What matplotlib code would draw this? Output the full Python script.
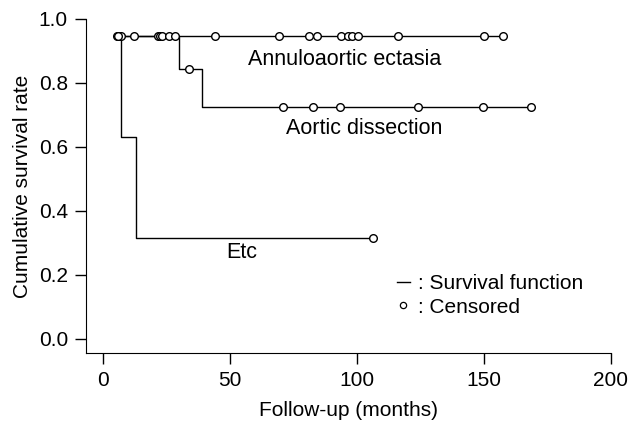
import matplotlib.pyplot as plt
from matplotlib.lines import Line2D

plt.rcParams['font.family'] = ['Liberation Sans', 'DejaVu Sans']

# Kaplan-Meier steps: (time of step, survival after step)
annulo_t = [5.5, 157.4]
annulo_s = [0.947, 0.947]
annulo_cens = [5.5, 6.3, 7.1, 12.3, 21.8, 22.4, 23.1, 26.1, 44.1, 69.3, 81.2,
               84.4, 93.6, 96.6, 97.9, 100.5, 116.3, 150.0, 157.4]

dissect_t = [5.5, 29.9, 38.8, 168.5]
dissect_s = [0.947, 0.844, 0.726, 0.726]
dissect_cens_t = [28.5, 33.9, 70.7, 82.8, 93.3, 124.1, 149.5, 168.5]
dissect_cens_s = [0.947, 0.844, 0.726, 0.726, 0.726, 0.726, 0.726, 0.726]

etc_t = [5.5, 7.0, 13.0, 106.4]
etc_s = [0.947, 0.632, 0.317, 0.317]
etc_cens_t = [5.8, 106.4]
etc_cens_s = [0.947, 0.317]

fig = plt.figure(figsize=(6.33, 4.26), dpi=100)
ax = fig.add_axes([86 / 633, 1 - 353 / 426, 525 / 633, 334 / 426])

line_kw = dict(color='black', lw=1.0, where='post')
mark_kw = dict(ls='none', marker='o', ms=5.5, mfc='white', mec='black', mew=1.0)

ax.step(annulo_t, annulo_s, **line_kw)
ax.step(dissect_t, dissect_s, **line_kw)
ax.step(etc_t, etc_s, **line_kw)
ax.plot(annulo_cens, [annulo_s[0]] * len(annulo_cens), **mark_kw)
ax.plot(dissect_cens_t, dissect_cens_s, **mark_kw)
ax.plot(etc_cens_t, etc_cens_s, **mark_kw)

ax.text(95.3, 0.872, 'Annuloaortic ectasia', ha='center', va='center', fontsize=15.5)
ax.text(102.8, 0.659, 'Aortic dissection', ha='center', va='center', fontsize=15.5)
ax.text(54.7, 0.269, 'Etc', ha='center', va='center', fontsize=15.5)

handles = [Line2D([], [], color='black', lw=1.0),
           Line2D([], [], ls='none', marker='o', ms=4.5, mfc='white', mec='black', mew=0.9)]
ax.legend(handles, [': Survival function', ': Censored'], loc='center left',
          bbox_to_anchor=(0.573, 0.172), frameon=False, fontsize=15,
          handlelength=0.6, handletextpad=0.4, labelspacing=0.2, borderpad=0)

ax.set_xlim(-6.7, 200)
ax.set_ylim(-0.044, 1.0)
ax.set_xticks([0, 50, 100, 150, 200])
ax.set_yticks([0.0, 0.2, 0.4, 0.6, 0.8, 1.0])
ax.set_yticklabels(['0.0', '0.2', '0.4', '0.6', '0.8', '1.0'])
ax.spines['top'].set_visible(False)
ax.spines['right'].set_visible(False)
ax.tick_params(direction='out', length=8, width=1, labelsize=15, pad=5)
ax.set_xlabel('Follow-up (months)', fontsize=15, labelpad=8)
ax.set_ylabel('Cumulative survival rate', fontsize=15, labelpad=5)

fig.savefig('out.png', dpi=100)
